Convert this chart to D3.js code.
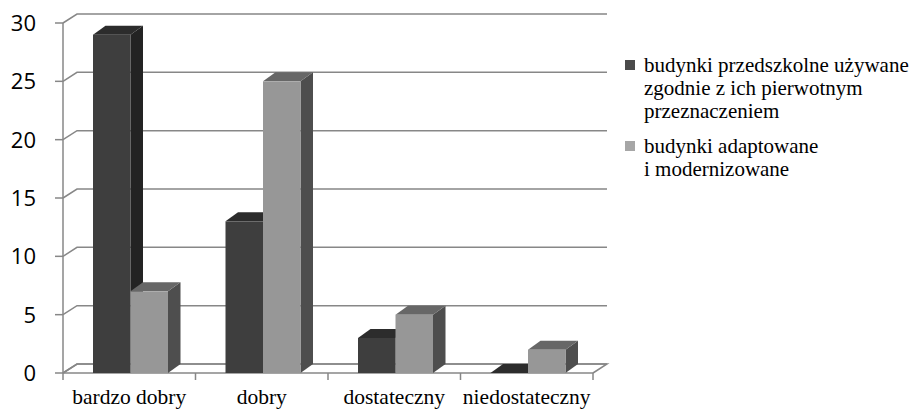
<!DOCTYPE html>
<html><head><meta charset="utf-8">
<script src="https://cdn.jsdelivr.net/npm/d3@7"></script>
<style>body{margin:0;background:#fff}</style>
</head><body>
<svg id="c" width="914" height="409"></svg>
<script>
const categories = ["bardzo dobry", "dobry", "dostateczny", "niedostateczny"];
const legendLines = [["budynki przedszkolne używane", "zgodnie z ich pierwotnym", "przeznaczeniem"], ["budynki adaptowane", "i modernizowane"]];
const series1 = [29, 13, 3, 0];
const series2 = [7, 25, 5, 2];
const yTicks = [0, 5, 10, 15, 20, 25, 30];

const SERIF = '"Times New Roman", "Liberation Serif", "Nimbus Roman", FreeSerif, Georgia';
const svg = d3.select("#c");

const left = 63, right = 593, y0 = 373, yTop = 23;
const wdx = 14, wdy = -9;
const bdx = 12.5, bdy = -9;
const grid = "#878787";
const colors = [
  {front: "#3e3e3e", side: "#232323", top: "#2c2c2c"},
  {front: "#979797", side: "#4e4e4e", top: "#676767"}
];

const x = d3.scaleBand().domain(categories).range([left, right]);
const xs = d3.scaleBand().domain([0, 1]).range([30, 105]);
const y = d3.scaleLinear().domain([0, 30]).range([y0, yTop]);

// legend text
const legendTop = [60, 141];
legendLines.forEach((lines, s) => {
  lines.forEach((t, k) => {
    svg.append("text").attr("x", 644).attr("y", legendTop[s] + 12 + k * 23)
      .style("font-family", SERIF).style("font-size", "21px").text(t);
  });
  svg.append("rect").attr("x", 625).attr("y", legendTop[s]).attr("width", 10).attr("height", 10)
    .attr("fill", s === 0 ? "#4a4a4a" : "#a6a6a6");
});
// category labels
categories.forEach(c => {
  svg.append("text").attr("x", x(c) + x.bandwidth() / 2).attr("y", 404)
    .style("font-family", SERIF).style("font-size", "21.5px").attr("text-anchor", "middle").text(c);
});

// floor
svg.append("path")
  .attr("d", `M${left},${y0}L${left+wdx},${y0+wdy}L${right+wdx},${y0+wdy}L${right},${y0}`)
  .attr("fill", "none").attr("stroke", grid).attr("stroke-width", 1.5);

// wall gridlines
yTicks.forEach(v => {
  const yy = y(v);
  svg.append("path")
    .attr("d", `M${left},${yy}L${left+wdx},${yy+wdy}L${right+wdx},${yy+wdy}`)
    .attr("fill", "none").attr("stroke", grid).attr("stroke-width", 1.5);
});

// y axis line and ticks
svg.append("line").attr("x1", left).attr("x2", left).attr("y1", y(30)).attr("y2", y0)
  .attr("stroke", grid).attr("stroke-width", 1.5);
yTicks.forEach(v => {
  svg.append("line").attr("x1", left - 8).attr("x2", left).attr("y1", y(v)).attr("y2", y(v))
    .attr("stroke", grid).attr("stroke-width", 1.5);
});

// x axis
svg.append("line").attr("x1", left).attr("x2", right).attr("y1", y0).attr("y2", y0)
  .attr("stroke", grid).attr("stroke-width", 1.5);
categories.map(c => x(c)).concat([right]).forEach(xx => {
  svg.append("line").attr("x1", xx).attr("x2", xx).attr("y1", y0).attr("y2", y0 + 7)
    .attr("stroke", grid).attr("stroke-width", 1.5);
});

// bars
const data = [series1, series2];
categories.forEach((c, i) => {
  [0, 1].forEach(s => {
    const v = data[s][i];
    const bx = x(c) + xs(s), bw = xs.bandwidth();
    const ty = y(v);
    const col = colors[s];
    svg.append("path").attr("d", `M${bx+bw},${y0}L${bx+bw+bdx},${y0+bdy}L${bx+bw+bdx},${ty+bdy}L${bx+bw},${ty}Z`)
      .attr("fill", col.side);
    svg.append("path").attr("d", `M${bx},${ty}L${bx+bdx},${ty+bdy}L${bx+bw+bdx},${ty+bdy}L${bx+bw},${ty}Z`)
      .attr("fill", col.top);
    if (v > 0) svg.append("rect").attr("x", bx).attr("y", ty).attr("width", bw).attr("height", y0 - ty)
      .attr("fill", col.front);
  });
});

// y tick labels
yTicks.forEach(v => {
  svg.append("text").attr("x", 36).attr("y", y(v) + 8)
    .style("font-family", '"Open Sans"').style("font-size", "22px").attr("text-anchor", "end").text(String(v));
});
</script>
</body></html>
